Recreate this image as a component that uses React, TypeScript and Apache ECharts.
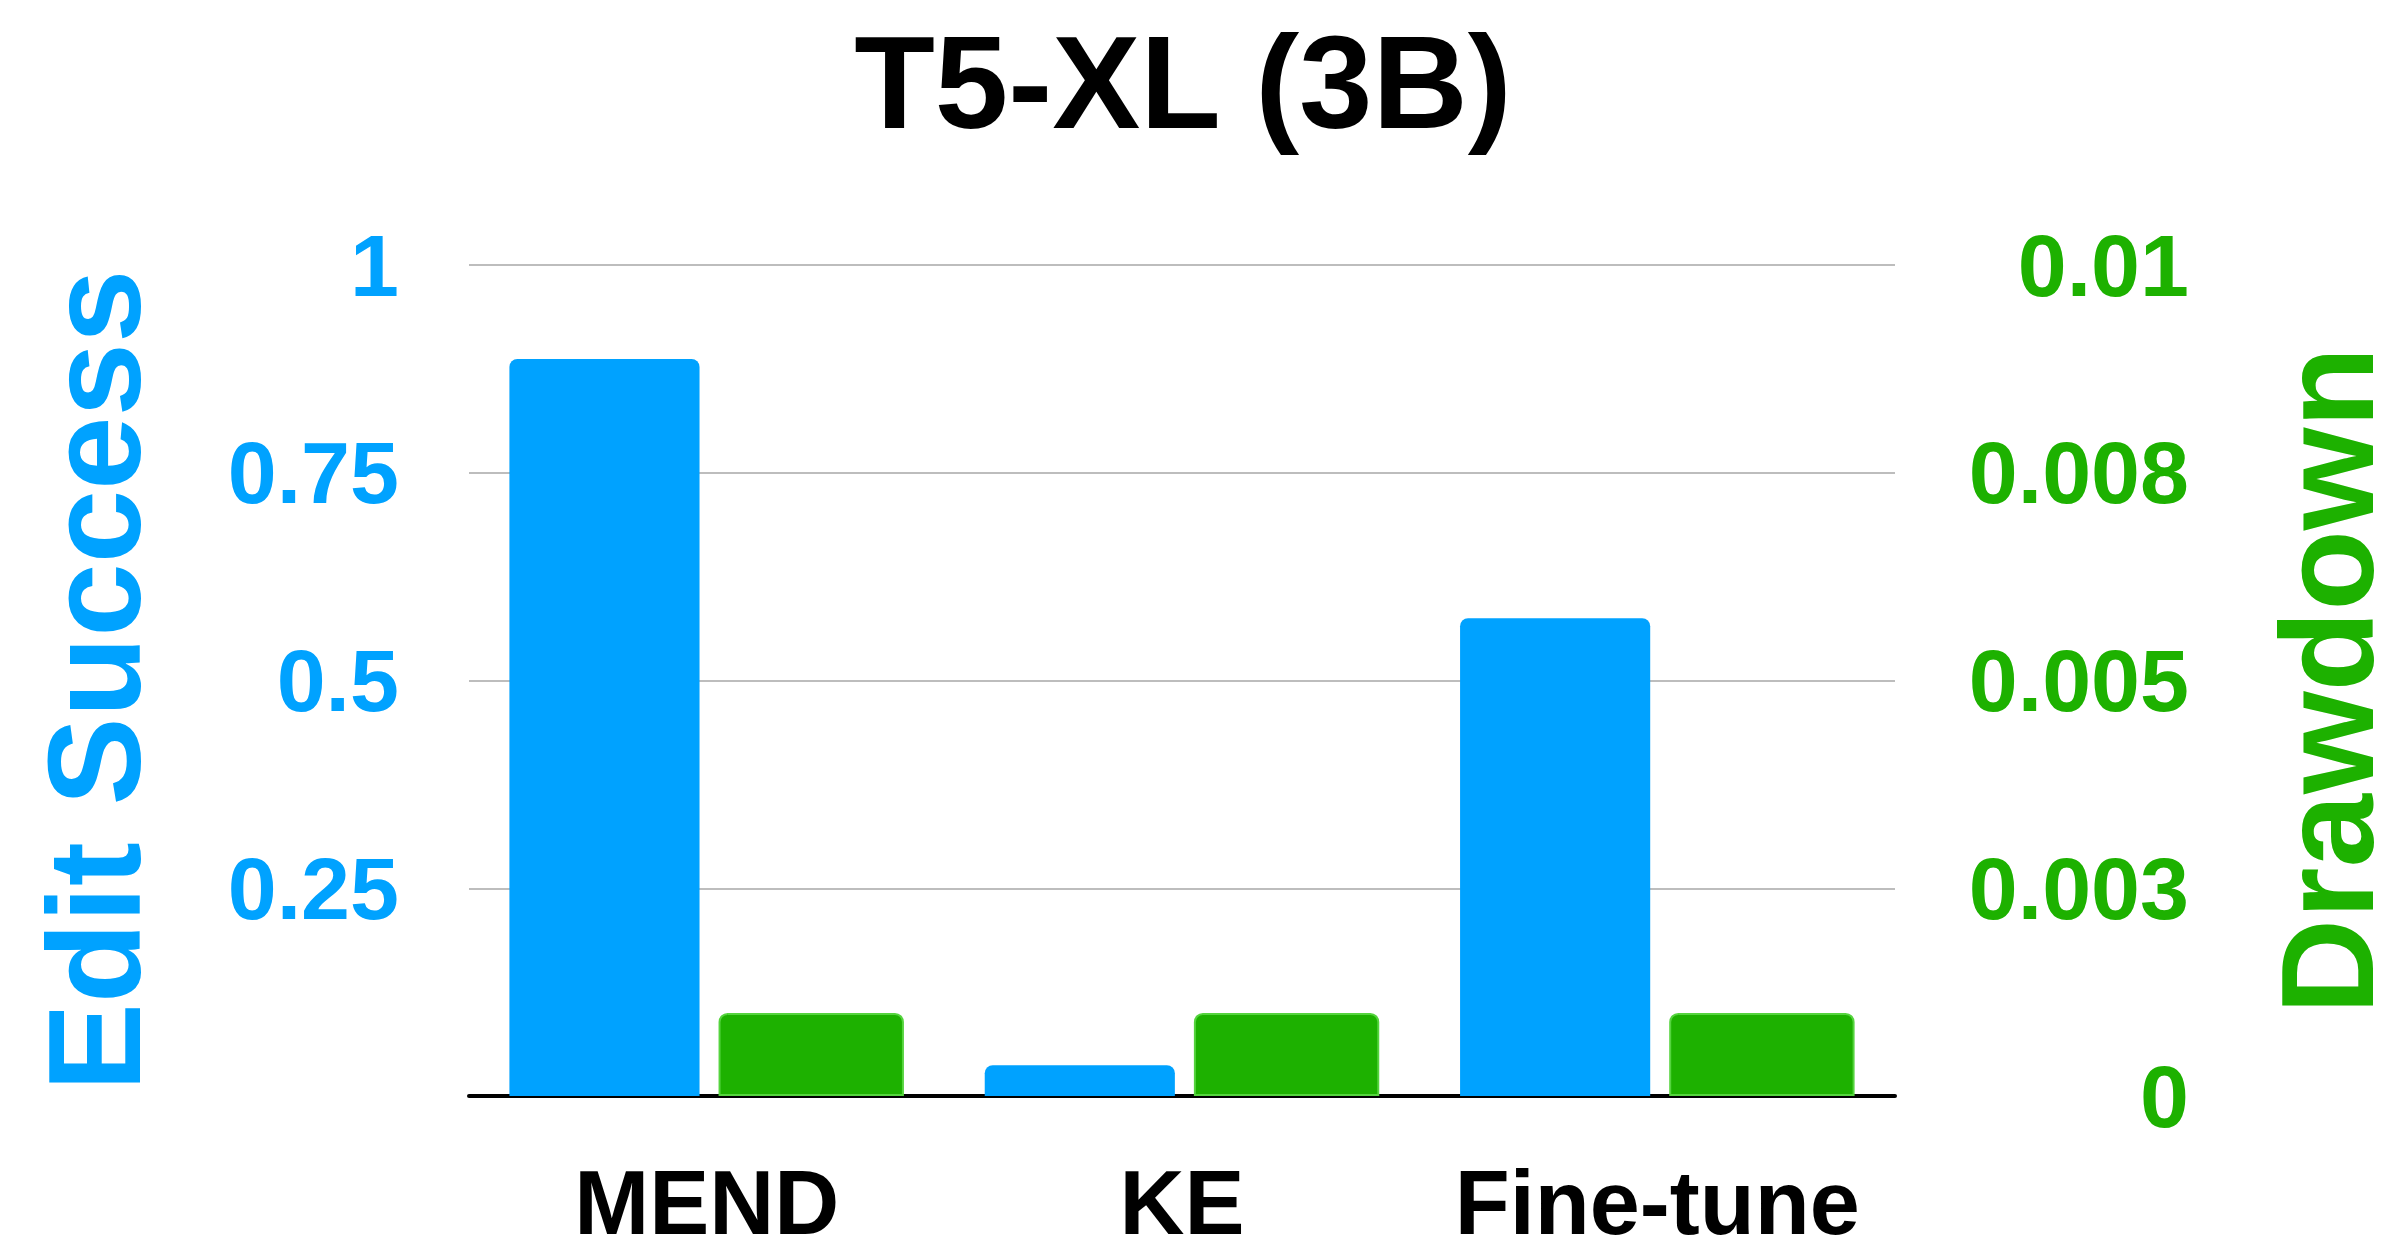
import React, { useEffect, useRef } from "react";
import * as echarts from "echarts";

// Methods compared on T5-XL (3B)
const categories = ["MEND", "KE", "Fine-tune"];
// Edit success (left axis, 0..1)
const editSuccess = [0.887, 0.037, 0.575];
// Drawdown (right axis, 0..0.01)
const drawdown = [0.001, 0.001, 0.001];
// Right-axis tick labels, shown rounded to three decimals
const drawdownTickLabels = ["0", "0.003", "0.005", "0.008", "0.01"];

const WIDTH = 2387;
const HEIGHT = 1237;
const FONT = "'Liberation Sans', Arial, Helvetica, sans-serif";
const BLUE = "#00A2FF";
const GREEN = "#1DB100";

export default function App() {
  const ref = useRef<HTMLDivElement>(null);

  useEffect(() => {
    if (!ref.current) return;
    document.body.style.margin = "0";
    document.body.style.overflow = "hidden";
    const chart = echarts.init(ref.current, null, {
      renderer: "svg",
      width: WIDTH,
      height: HEIGHT,
    });
    chart.setOption({
      animation: false,
      backgroundColor: "#ffffff",
      title: {
        text: "T5-XL (3B)",
        left: 1178,
        top: 11,
        textAlign: "center",
        textStyle: {
          fontFamily: FONT,
          fontWeight: "bold",
          fontSize: 132,
          color: "#000000",
        },
      },
      grid: {
        left: 469,
        right: 492,
        top: 265,
        bottom: 141,
        containLabel: false,
        outerBoundsMode: "none",
      },
      xAxis: {
        type: "category",
        data: categories,
        axisLine: { show: true, lineStyle: { color: "#000000", width: 4 } },
        axisTick: { show: false },
        axisLabel: {
          interval: 0,
          margin: 77,
          fontFamily: FONT,
          fontWeight: "bold",
          fontSize: 90,
          lineHeight: 60,
          color: "#000000",
        },
      },
      yAxis: [
        {
          type: "value",
          min: 0,
          max: 1,
          interval: 0.25,
          position: "left",
          name: "Edit Success",
          nameLocation: "middle",
          nameRotate: 90,
          nameGap: 309,
          nameTextStyle: {
            fontFamily: FONT,
            fontWeight: "bold",
            fontSize: 132,
            color: BLUE,
          },
          axisLine: { show: false },
          axisTick: { show: false },
          splitLine: { show: true, lineStyle: { color: "#BDBDBD", width: 2 } },
          axisLabel: {
            showMinLabel: false,
            margin: 70,
            fontFamily: FONT,
            fontWeight: "bold",
            fontSize: 88,
            color: BLUE,
            formatter: (v: number) => String(v),
          },
        },
        {
          type: "value",
          min: 0,
          max: 0.01,
          interval: 0.0025,
          position: "right",
          name: "Drawdown",
          nameLocation: "middle",
          nameRotate: 90,
          nameGap: 382,
          nameTextStyle: {
            fontFamily: FONT,
            fontWeight: "bold",
            fontSize: 132,
            lineHeight: 100,
            color: GREEN,
          },
          axisLine: { show: false },
          axisTick: { show: false },
          splitLine: { show: false },
          axisLabel: {
            margin: 294,
            align: "right",
            fontFamily: FONT,
            fontWeight: "bold",
            fontSize: 88,
            color: GREEN,
            formatter: (v: number) => drawdownTickLabels[Math.round(v / 0.0025)] ?? "",
          },
        },
      ],
      series: [
        {
          type: "bar",
          name: "Edit Success",
          yAxisIndex: 0,
          data: editSuccess,
          barWidth: "40%",
          barGap: "10%",
          itemStyle: { color: BLUE, borderRadius: [8, 8, 0, 0] },
        },
        {
          type: "bar",
          name: "Drawdown",
          yAxisIndex: 1,
          data: drawdown,
          barWidth: "39%",
          barGap: "10%",
          itemStyle: {
            color: GREEN,
            borderColor: "#55D43E",
            borderWidth: 2,
            borderRadius: [8, 8, 0, 0],
          },
        },
      ],
    });
    return () => chart.dispose();
  }, []);

  return (
    <div
      ref={ref}
      style={{ position: "fixed", left: 0, top: 0, width: WIDTH, height: HEIGHT }}
    />
  );
}
